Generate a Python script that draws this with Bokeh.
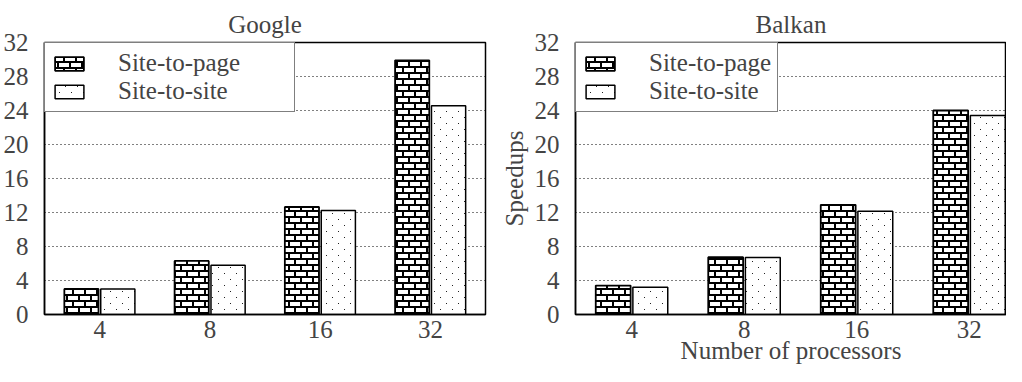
import base64
from bokeh.plotting import figure
from bokeh.layouts import row
from bokeh.models import (ColumnDataSource, FixedTicker, Range1d,
                          ImageURLTexture, Legend, LegendItem)
from bokeh.transform import dodge
from bokeh.core.properties import value
from bokeh.embed import file_html
from bokeh.resources import INLINE

processors = ["4", "8", "16", "32"]
series_names = ["Site-to-page", "Site-to-site"]
google_site_to_page = [3.0, 6.3, 12.65, 29.9]
google_site_to_site = [3.0, 5.8, 12.25, 24.55]
balkan_site_to_page = [3.4, 6.75, 12.9, 24.0]
balkan_site_to_site = [3.2, 6.7, 12.15, 23.4]
y_ticks = [0, 4, 8, 12, 16, 20, 24, 28, 32]

FONT = "'Liberation Serif', serif"
FS = "25px"

BRICK_SVG = ("<svg xmlns='http://www.w3.org/2000/svg' width='12' height='12'>"
             "<rect x='0' y='0' width='12' height='2' fill='black'/>"
             "<rect x='0' y='6' width='12' height='2' fill='black'/>"
             "<rect x='0' y='0' width='2' height='6' fill='black'/>"
             "<rect x='6' y='6' width='2' height='6' fill='black'/></svg>")
DOTS_SVG = ("<svg xmlns='http://www.w3.org/2000/svg' width='12' height='12'>"
            "<rect x='2' y='3' width='1' height='1' fill='#222'/>"
            "<rect x='8' y='9' width='1' height='1' fill='#222'/></svg>")


def svg_url(s):
    return "data:image/svg+xml;base64," + base64.b64encode(s.encode()).decode()


def make_fig(title, page, site, width, border_left, border_right, x_end, label_width,
             y_label=None, x_label=None):
    src = ColumnDataSource(dict(x=list(range(len(processors))), page=page, site=site))
    p = figure(width=width, height=366, x_range=Range1d(-0.5, x_end), y_range=Range1d(0, 32),
               output_backend="svg", toolbar_location=None, title=title,
               min_border_left=border_left, min_border_right=border_right,
               min_border_top=42, min_border_bottom=52)
    r1 = p.vbar(x=dodge("x", -0.165), top="page", width=0.31, source=src,
                fill_color="white", line_color="black", line_width=1.8,
                hatch_pattern=value("brick"),
                hatch_extra={"brick": ImageURLTexture(url=svg_url(BRICK_SVG))},
                hatch_color="black", hatch_scale=12)
    r2 = p.vbar(x=dodge("x", 0.165), top="site", width=0.31, source=src,
                fill_color="white", line_color="black", line_width=1.5,
                hatch_pattern=value("dots"),
                hatch_extra={"dots": ImageURLTexture(url=svg_url(DOTS_SVG))},
                hatch_color="#222222", hatch_scale=12)

    p.title.text_font = FONT
    p.title.text_font_size = FS
    p.title.text_font_style = "normal"
    p.title.align = "center"
    p.title.standoff = 10

    p.outline_line_color = "black"
    p.outline_line_width = 1.5
    p.xgrid.grid_line_color = None
    p.ygrid.grid_line_color = "black"
    p.ygrid.grid_line_dash = "1 3"
    p.ygrid.grid_line_width = 1
    p.ygrid.ticker = FixedTicker(ticks=y_ticks)

    p.yaxis.ticker = FixedTicker(ticks=y_ticks)
    p.xaxis.ticker = FixedTicker(ticks=list(range(len(processors))))
    p.xaxis.major_label_overrides = {i: c for i, c in enumerate(processors)}
    for ax in (p.xaxis, p.yaxis):
        ax.major_label_text_font = FONT
        ax.major_label_text_font_size = FS
        ax.major_tick_line_color = None
        ax.minor_tick_line_color = None
        ax.axis_line_color = "black"
        ax.axis_line_width = 1.5
        ax.axis_label_text_font = FONT
        ax.axis_label_text_font_size = FS
        ax.axis_label_text_font_style = "normal"
    p.yaxis.major_label_standoff = 10
    p.xaxis.major_label_standoff = 0
    if y_label:
        p.yaxis.axis_label = y_label
        p.yaxis.axis_label_standoff = 4
    if x_label:
        p.xaxis.axis_label = x_label
        p.xaxis.axis_label_standoff = -4

    legend = Legend(items=[LegendItem(label=series_names[0], renderers=[r1]),
                           LegendItem(label=series_names[1], renderers=[r2])],
                    location="top_left", margin=0, padding=6, spacing=0,
                    glyph_width=36, glyph_height=17, label_standoff=31,
                    label_height=20, label_width=label_width,
                    border_line_color="black", border_line_width=1.5,
                    background_fill_color="white", background_fill_alpha=1,
                    label_text_font=FONT, label_text_font_size=FS)
    p.add_layout(legend)
    return p


p1 = make_fig("Google", google_site_to_page, google_site_to_site,
              492, 35, 7, 3.5, 170)
p2 = make_fig("Balkan", balkan_site_to_page, balkan_site_to_site,
              514, 83, 0, -0.5 + 431 / 112.5, 110,
              y_label="Speedups", x_label="Number of processors")

layout = row(p1, p2)
open("out.html", "w").write(file_html(layout, INLINE))
